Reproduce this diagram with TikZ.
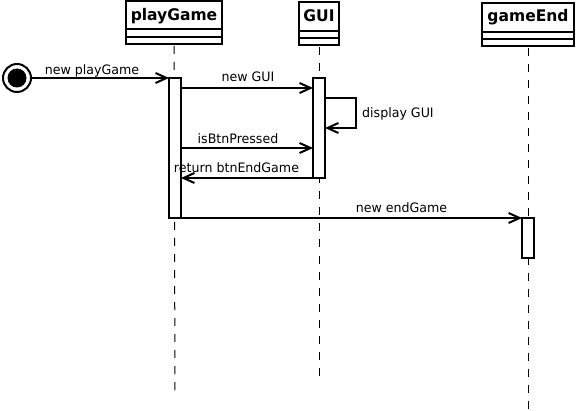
\documentclass[tikz,border=0pt]{standalone}
\usepackage{fontspec}
\newfontfamily\lblfont[FakeStretch=0.97]{DejaVu Sans}
\newfontfamily\ttlfont[FakeStretch=0.97]{DejaVu Sans Bold}
\usetikzlibrary{arrows.meta,calc}
\begin{document}
\begin{tikzpicture}[x=1pt,y=-1pt,
  classbox/.style={draw, line width=2pt, minimum width=#1, minimum height=43pt, inner sep=0pt, outer sep=0pt},
  actbox/.style={draw, fill=white, line width=2pt, minimum width=12pt, minimum height=#1, inner sep=0pt, outer sep=0pt},
  ttl/.style={font=\ttlfont\fontsize{16}{18}\selectfont, inner sep=0pt, anchor=base},
  lbl/.style={font=\lblfont\fontsize{13}{15}\selectfont, inner sep=0pt, anchor=base},
  life/.style={line width=1pt, dash pattern=on 8pt off 8pt},
  msg/.style={line width=2pt, -{Straight Barb[length=11pt,width=10pt,line width=2pt]}},
  plain/.style={line width=2pt}]
\useasboundingbox[fill=white] (0,0) rectangle (577,411);

% class boxes
\node[classbox=96pt] (pgBox) at (174,22.5) {};
\node[classbox=40pt] (guiBox) at (319,24) {};
\node[classbox=92pt] (geBox) at (528,25) {};
\foreach \b in {pgBox,guiBox,geBox}{
  \draw[plain] ($(\b.north west)+(0,28.5)$) -- ($(\b.north east)+(0,28.5)$);
  \draw[plain] ($(\b.north west)+(0,36)$) -- ($(\b.north east)+(0,36)$);
}
\node[ttl] (pgTitle) at ($(pgBox.north)+(0,19.5)$) {playGame};
\node[ttl] (guiTitle) at ($(guiBox.north)+(0,19)$) {GUI};
\node[ttl] (geTitle) at ($(geBox.north)+(0,18.5)$) {gameEnd};

% lifelines
\coordinate (pgEnd) at (175,396);
\coordinate (guiEnd) at (319,378);
\coordinate (geEnd) at (528,411);
\draw[life] ($(pgBox.south)+(0,2)$) -- (pgEnd);
\draw[life] ($(guiBox.south)+(0,2)$) -- (guiEnd);
\draw[life] ($(geBox.south)+(0,2)$) -- (geEnd);

% activations
\node[actbox=140pt] (pgAct) at (175,148) {};
\node[actbox=100pt] (guiAct) at (319,128) {};
\node[actbox=40pt] (geAct) at (528,238) {};

% initial state
\node[draw, circle, line width=2pt, minimum size=28pt, inner sep=0pt, outer sep=1pt] (start) at (17,78) {};
\fill (start.center) circle[radius=9.5pt];

% messages
\draw[msg] (start.east) -- (pgAct.north west);
\node[lbl] (l1) at (92,75) {new playGame};

\draw[msg] ($(pgAct.north east)+(0,10)$) -- ($(guiAct.north west)+(0,10)$);
\node[lbl] (l2) at (248,82) {new GUI};

\draw[msg] ($(guiAct.north east)+(0,20)$) -- ++(31,0) -- ++(0,30) -- ($(guiAct.north east)+(0,50)$);
\node[lbl, anchor=base west] (l3) at (362,118) {display GUI};

\draw[msg] ($(pgAct.north east)+(0,70)$) -- ($(guiAct.north west)+(0,70)$);
\node[lbl] (l4) at (238,144) {isBtnPressed};

\draw[msg] (guiAct.south west) -- ($(pgAct.north east)+(0,100)$);
\node[lbl] (l5) at (236.5,173) {return btnEndGame};

\draw[msg] (pgAct.south east) -- (geAct.north west);
\node[lbl] (l6) at (401.5,212.5) {new endGame};
\end{tikzpicture}
\end{document}
